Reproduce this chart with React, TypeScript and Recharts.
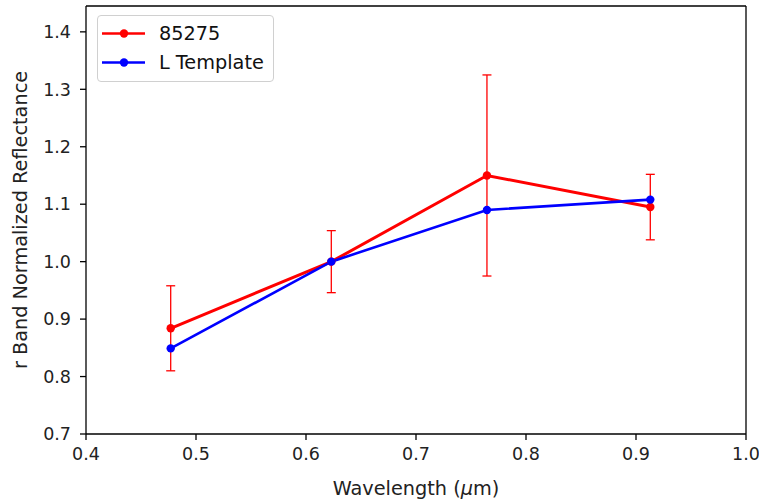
import React from 'react';
import {
  ErrorBar,
  Line,
  LineChart,
  ReferenceLine,
  XAxis,
  YAxis,
} from 'recharts';

const wavelengths = [0.477, 0.623, 0.7645, 0.913];
const asteroidValues = [0.884, 1.0, 1.15, 1.095];
const asteroidErrors = [0.074, 0.054, 0.175, 0.057];
const templateValues = [0.849, 1.0, 1.09, 1.108];

const xTicks = [0.4, 0.5, 0.6, 0.7, 0.8, 0.9, 1.0];
const yTicks = [0.7, 0.8, 0.9, 1.0, 1.1, 1.2, 1.3, 1.4];

const FONT = '"DejaVu Sans", sans-serif';
const RED = '#ff0000';
const BLUE = '#0000ff';
const TICK_SIZE = 17.5;
const LABEL_SIZE = 19.3;

const chartData = wavelengths.map((w, i) => ({
  w,
  asteroid: asteroidValues[i],
  err: asteroidErrors[i],
  template: templateValues[i],
}));

const legendItems = [
  { name: '85275', color: RED },
  { name: 'L Template', color: BLUE },
];

// legend drawn as an overlay so it does not push the plot area down
function LegendBox() {
  return (
    <div
      style={{
        position: 'absolute',
        left: 97,
        top: 15,
        width: 175,
        height: 65,
        border: '1px solid #d0d0d0',
        borderRadius: 4,
        background: 'rgba(255,255,255,0.8)',
        fontFamily: FONT,
        fontSize: LABEL_SIZE,
        color: '#111',
      }}
    >
      {legendItems.map((item, i) => (
        <div
          key={item.name}
          style={{ position: 'absolute', left: 0, top: 3 + i * 29, height: 29, display: 'flex', alignItems: 'center' }}
        >
          <svg width={61} height={29} style={{ display: 'block' }}>
            <line x1={4} x2={47} y1={14.5} y2={14.5} stroke={item.color} strokeWidth={2.7} />
            <circle cx={26} cy={14.5} r={4.2} fill={item.color} />
          </svg>
          <span style={{ lineHeight: '29px' }}>{item.name}</span>
        </div>
      ))}
    </div>
  );
}

export default function App() {
  return (
    <div style={{ position: 'absolute', left: 0, top: 0, width: 759, height: 500, background: '#fff' }}>
      <LineChart
        width={759}
        height={500}
        data={chartData}
        margin={{ top: 6, right: 13, bottom: 0, left: 0 }}
      >
        <XAxis
          dataKey="w"
          type="number"
          domain={[0.4, 1.0]}
          ticks={xTicks}
          allowDataOverflow
          height={66}
          tickSize={6}
          tickMargin={8}
          tickFormatter={(v: number) => v.toFixed(1)}
          stroke="#000"
          strokeWidth={1.3}
          tick={{ fill: '#222', fontSize: TICK_SIZE, fontFamily: FONT }}
          label={{
            content: ({ viewBox }: any) => (
              <text
                x={viewBox.x + viewBox.width / 2}
                y={viewBox.y + 61}
                textAnchor="middle"
                fill="#222"
                fontSize={LABEL_SIZE}
                fontFamily={FONT}
              >
                Wavelength (<tspan fontStyle="italic">μ</tspan>m)
              </text>
            ),
          }}
        />
        <YAxis
          type="number"
          domain={[0.7, 1.445]}
          ticks={yTicks}
          allowDataOverflow
          width={86}
          tickSize={6}
          tickMargin={9}
          tickFormatter={(v: number) => v.toFixed(1)}
          stroke="#000"
          strokeWidth={1.3}
          tick={{ fill: '#222', fontSize: TICK_SIZE, fontFamily: FONT }}
          label={{
            content: ({ viewBox }: any) => {
              const cy = viewBox.y + viewBox.height / 2;
              return (
                <text
                  x={27}
                  y={cy}
                  transform={`rotate(-90, 27, ${cy})`}
                  textAnchor="middle"
                  fill="#222"
                  fontSize={LABEL_SIZE}
                  fontFamily={FONT}
                >
                  r Band Normalized Reflectance
                </text>
              );
            },
          }}
        />
        <ReferenceLine x={1.0} stroke="#000" strokeWidth={1.3} />
        <ReferenceLine y={1.445} stroke="#000" strokeWidth={1.3} />
        <Line
          dataKey="asteroid"
          name="85275"
          stroke={RED}
          strokeWidth={3}
          dot={{ r: 4.2, fill: RED, stroke: RED, strokeWidth: 0 }}
          activeDot={false}
          isAnimationActive={false}
        >
          <ErrorBar dataKey="err" direction="y" width={4.5} stroke={RED} strokeWidth={1.3} />
        </Line>
        <Line
          dataKey="template"
          name="L Template"
          stroke={BLUE}
          strokeWidth={2.6}
          dot={{ r: 4.2, fill: BLUE, stroke: BLUE, strokeWidth: 0 }}
          activeDot={false}
          isAnimationActive={false}
        />
      </LineChart>
      <LegendBox />
    </div>
  );
}
